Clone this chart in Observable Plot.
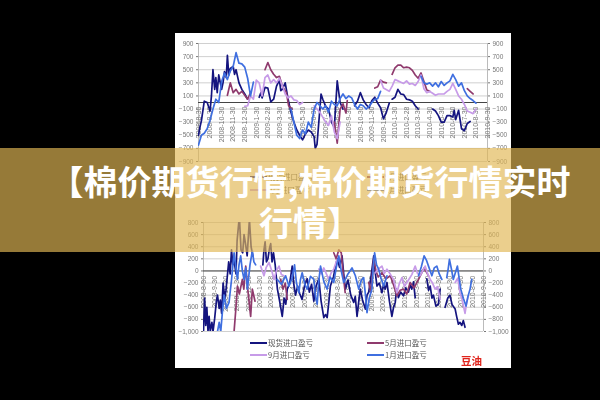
<!DOCTYPE html>
<html><head><meta charset="utf-8">
<script src="https://cdn.jsdelivr.net/npm/d3@7"></script>
<script src="https://cdn.jsdelivr.net/npm/@observablehq/plot@0.6"></script>
<style>
html,body{margin:0;padding:0;background:#000;width:600px;height:400px;overflow:hidden;font-family:"Noto Sans CJK SC","Noto Sans",sans-serif}
#panel{position:absolute;left:175px;top:33px;width:336px;height:335px;background:#fff}
.chart{position:absolute;left:175px;filter:blur(.55px)}
.chart svg{background:transparent!important;display:block}
.leg{position:absolute;font-size:7.5px;line-height:9px;color:#555;white-space:nowrap;filter:blur(.35px);padding-left:18px}
.leg i{position:absolute;left:0;top:4px;width:17px;height:1.5px}
#mark{position:absolute;left:461px;top:354px;color:#e0241c;font-size:10.5px;font-weight:700;line-height:13px;filter:blur(.3px)}
#band{position:absolute;left:0;top:148px;width:600px;height:104px;background:rgba(225,183,84,.667)}
#title{position:absolute;left:0;width:620px;top:160px;text-align:center;color:#fff;font-weight:700;font-size:34px;line-height:41px}
</style></head><body>
<div id="panel"></div>
<div id="c1" class="chart" style="top:33px"></div>
<div id="c2" class="chart" style="top:212px"></div>
<div id="legends"></div>
<div id="mark">豆油</div>
<div id="band"></div>
<div id="title">【棉价期货行情,棉价期货行情实时<br>行情】</div>
<script>
const tickMonths=[0,1,2,3,4,5,6,7,8,9,10,11,12,13,14,15,16,17,18,19,20,21,22,23,24,25];
const tickLabels=["2008-8-30","2008-9-30","2008-10-30","2008-11-30","2008-12-30","2009-1-30","2009-2-28","2009-3-30","2009-4-30","2009-5-30","2009-6-30","2009-7-30","2009-8-30","2009-9-30","2009-10-30","2009-11-30","2009-12-30","2010-1-30","2010-2-28","2010-3-30","2010-4-30","2010-5-30","2010-6-30","2010-7-30","2010-8-30","2010-9-30"];
const legendNames=["现货进口盈亏","5月进口盈亏","9月进口盈亏","1月进口盈亏"];
const colors={spot:"#14147f",may:"#8f3a6d",sep:"#c79be8",jan:"#3f6fe0"};
const yTicks1=[-900,-700,-500,-300,-100,100,300,500,700,900];
const yTicks2=[-1000,-800,-600,-400,-200,0,200,400,600,800];

const spot1=[[0,-500],[.12,-380],[.25,-280],[.5,20],[.75,0],[1,-130],[1.12,100],[1.25,500],[1.4,200],[1.5,380],[1.62,150],[1.75,420],[2,200],[2.12,300],[2.25,470],[2.4,380],[2.5,720],[2.62,420],[2.75,520],[3,550],[3.12,430],[3.25,500],[3.5,300],[3.75,200],[4,130],[4.25,50],[4.5,null],
[5.25,80],[5.4,150],[5.5,70],[5.75,230],[6,220],[6.25,10],[6.5,50],[6.75,250],[7,340],[7.12,180],[7.25,200],[7.5,300],[7.75,50],[8,-150],[8.25,-300],[8.5,-420],[8.75,-500],[9,-570],[9.25,-480],[9.5,-420],[9.75,-450],[10,-520],[10.1,-700],[10.25,-640],[10.5,-100],[10.6,130],[10.75,50],[11,-60],[11.25,-100],[11.5,-300],[11.75,-380],[12,330],[12.25,0],[12.5,-100],[12.75,null],
[13.5,-50],[13.75,20],[14,150],[14.25,40],[14.5,-30],[14.75,-80],[15,30],[15.25,80],[15.5,-10],[15.75,-80],[16,-250],[16.25,-150],[16.5,-10],[16.6,null],[16.75,50],[17,80],[17.25,200],[17.5,130],[17.75,120],[18,50],[18.25,40],[18.5,20],[18.75,-50],[19,-100],[19.1,null],
[20.25,-100],[20.5,-130],[20.75,-200],[21,-300],[21.25,-300],[21.5,-200],[21.75,-200],[22,-220],[22.12,-120],[22.25,-260],[22.5,-120],[22.75,-400],[23,-430],[23.25,-320],[23.5,-290]];
const may1=[[2.5,110],[2.75,300],[3,150],[3.25,200],[3.5,130],[3.75,170],[4,110],[4.25,50],[4.5,150],[4.6,null],
[5.75,500],[6,610],[6.25,500],[6.5,430],[6.75,380],[7,400],[7.25,250],[7.6,150],[7.8,-50],[8.1,-100],[8.2,null],
[11.75,-300],[12,-620],[12.25,-100],[12.5,-20],[12.75,-160],[12.87,30],[12.9,null],
[15.25,220],[15.5,240],[15.75,340],[16,310],[16.25,300],[16.3,null],[16.75,430],[17,530],[17.25,570],[17.5,570],[17.75,530],[18,540],[18.25,530],[18.5,490],[18.75,420],[19,370],[19.25,450],[19.5,320],[19.75,190],[20,170],[20.1,null],
[23.25,210],[23.5,170],[23.75,130]];
const sep1=[[4,-60],[4.25,-50],[4.5,100],[4.75,50],[5,340],[5.25,300],[5.5,100],[5.75,380],[6,420],[6.25,300],[6.5,350],[6.75,300],[7,370],[7.25,260],[7.5,130],[7.75,70],[8,100],[8.25,40],[8.5,30],[8.75,-30],[9,0],[9.2,null],
[10,-50],[10.25,-100],[10.5,-150],[11,-300],[11.25,-350],[11.5,-200],[11.75,-450],[12,-550],[12.25,-300],[12.5,null],
[15.75,340],[16,220],[16.5,170],[16.75,250],[17,350],[17.25,330],[17.5,310],[17.75,290],[18,330],[18.25,280],[18.5,290],[18.75,260],[19,320],[19.25,420],[19.5,210],[19.75,150],[20,170],[20.25,140],[20.5,110],[20.75,130],[21,130],[21.25,130],[21.5,170],[21.75,200],[22,290],[22.25,200],[22.5,100],[22.75,50],[23,-30],[23.25,-130],[23.5,-150],[23.75,-170],[24,-100]];
const jan1=[[0,-650],[.25,-500],[.5,-470],[.75,-400],[1,-270],[1.25,-100],[1.5,50],[1.75,0],[2,320],[2.25,450],[2.5,350],[2.75,480],[3,550],[3.25,760],[3.5,600],[3.75,590],[4,540],[4.25,370],[4.5,100],[4.75,310],[4.9,null],
[8,-100],[8.25,-300],[8.5,-500],[8.75,-550],[9,-420],[9.25,-480],[9.5,-300],[9.75,-380],[10,-100],[10.25,0],[10.5,-50],[10.75,-100],[11,-50],[11.25,-150],[11.5,20],[11.75,-30],[12,-50],[12.25,60],[12.5,130],[12.75,60],[13,100],[13.25,70],[13.5,-30],[13.75,-100],[14,-30],[14.25,-50],[14.5,-100],[14.75,-60],[15,0],[15.25,50],[15.5,60],[15.75,170],[15.9,null],
[19.25,400],[19.5,300],[19.75,280],[20,300],[20.25,250],[20.5,300],[20.75,240],[21,320],[21.25,260],[21.5,300],[21.75,330],[22,430],[22.25,350],[22.5,250],[22.75,300],[23,180],[23.25,100],[23.5,60],[23.75,30],[24,-10]];

const spot2=[[0,-1000],[.1,-450],[.2,-900],[.3,-600],[.4,-1000],[.5,-750],[.6,-1000],[.75,-850],[.85,-1000],[1,-780],[1.15,-500],[1.25,-400],[1.4,-620],[1.5,-480],[1.62,-700],[1.75,-200],[1.9,-450],[2,-330],[2.12,-100],[2.25,150],[2.38,-50],[2.5,350],[2.62,100],[2.75,150],[2.9,-50],[3,500],[3.2,900],[3.35,350],[3.5,300],[3.62,600],[3.75,450],[3.9,250],[4.1,850],[4.25,400],[4.4,250],[4.6,null],
[5.3,100],[5.4,350],[5.5,480],[5.62,150],[5.75,200],[5.9,380],[6,450],[6.12,150],[6.25,300],[6.4,100],[6.6,-300],[6.8,-500],[7.03,-750],[7.2,-450],[7.35,-550],[7.48,-300],[7.7,-200],[7.92,80],[8.05,-200],[8.22,-400],[8.4,-250],[8.6,-380],[8.8,-470],[9.05,-220],[9.26,-130],[9.45,-350],[9.65,-220],[9.85,-500],[10.05,-250],[10.3,-130],[10.5,-500],[10.74,-770],[10.9,-720],[11.04,-770],[11.2,-500],[11.33,-250],[11.6,-100],[11.93,200],[12.15,60],[12.37,250],[12.52,-50],[12.67,-300],[12.9,-150],[13.15,-400],[13.41,-520],[13.55,-420],[13.71,-750],[13.85,-520],[14,-300],[14.2,-480],[14.45,-630],[14.6,-400],[14.75,-350],[14.95,-100],[15.2,250],[15.35,-50],[15.49,-250],[15.7,-200],[15.93,-360],[16.08,-220],[16.23,-300],[16.38,-190],[16.6,-500],[16.82,-750],[16.97,-600],[17.12,-520],[17.25,-300],[17.4,-440],[17.6,-350],[17.86,-410],[18.05,-280],[18.3,-350],[18.45,-230],[18.6,-300],[18.75,-180],[18.9,-440],[19,null],
[19.94,-130],[20.1,-320],[20.24,-250],[20.4,-450],[20.53,-400],[20.75,-580],[20.98,-550],[21.13,-300],[21.2,null],[21.57,-600],[21.8,-450],[22,-400],[22.2,-560],[22.47,-630],[22.6,-750],[22.76,-880],[22.9,-850],[23.06,-900],[23.2,-820],[23.35,-930]];
const may2=[[2.73,-1000],[2.9,-600],[3.03,-250],[3.2,-380],[3.47,-140],[3.6,-300],[3.77,80],[3.95,-300],[4.21,-750],[4.36,-300],[4.6,-500],[4.7,null],
[6.88,-140],[7.1,-300],[7.3,-200],[7.48,-470],[7.6,null],[11.63,300],[11.85,200],[12.08,350],[12.3,300],[12.5,-100],[12.65,-360],[12.7,null],
[14.75,-190],[14.95,-350],[15.2,190],[15.4,0],[15.6,-100],[15.93,-30],[16.3,-130],[16.68,-80],[17,-250],[17.27,-410],[17.55,-320],[17.86,-300],[18.15,-380],[18.45,-190],[18.8,-280],[19.2,-140],[19.7,50],[20.09,-80]];
const sep2=[[5.1,80],[5.4,-80],[5.6,60],[5.85,140],[6.1,0],[6.3,-140],[6.5,0],[6.74,80],[6.95,-60],[7.18,-80],[7.3,null],
[10.3,30],[10.5,-50],[10.74,50],[11,-60],[11.19,-140],[11.4,-30],[11.63,30],[11.93,190],[12,null],
[15.34,-30],[15.6,30],[15.93,80],[16.15,-40],[16.38,30],[16.7,-60],[16.97,-140],[17.27,-360],[17.5,-200],[17.72,-110],[17.95,-260],[18.16,-190],[18.4,-120],[18.6,-60],[18.9,80],[19.1,-40],[19.34,-80],[19.79,80],[20,-40],[20.24,-140],[20.45,-200],[20.68,-300],[20.9,-260],[21.13,-470],[21.3,null],
[22.47,-190],[22.7,-120],[22.9,-360],[23.1,-480],[23.35,-700],[23.5,-520],[23.65,-410]];
const jan2=[[1.25,-1000],[1.4,-850],[1.54,-1000],[1.7,-650],[1.84,-400],[2.05,-620],[2.28,-520],[2.5,-150],[2.73,300],[2.9,50],[3.03,-140],[3.17,100],[3.32,250],[3.47,0],[3.62,-140],[3.77,50],[3.92,-300],[4.15,100],[4.36,330],[4.5,150],[4.66,100],[4.8,null],
[6.59,-140],[6.95,-220],[7.33,-80],[7.63,-250],[7.9,-120],[8.13,100],[8.3,-200],[8.52,-360],[8.65,-150],[8.81,-30],[9.05,-220],[9.26,-300],[9.55,-90],[9.85,-140],[10,-420],[10.15,-550],[10.3,-150],[10.45,80],[10.75,-180],[11.04,-300],[11.3,-100],[11.63,-190],[11.85,50],[12.08,250],[12.3,0],[12.52,-190],[12.9,-50],[13.26,50],[13.56,-80],[13.86,-300],[14.1,-150],[14.3,-110],[14.45,-380],[14.6,-690],[14.8,-450],[15.04,-300],[15.15,50],[15.28,300],[15.45,100],[15.64,30],[15.85,-120],[16.09,-250],[16.38,-80],[16.5,null],
[19.2,-80],[19.45,70],[19.7,250],[19.9,180],[20.09,80],[20.39,-80],[20.6,50],[20.83,80],[21.05,-50],[21.28,-140],[21.4,null],[21.72,-110],[21.85,40],[21.96,190],[22.15,20],[22.3,-140],[22.5,-20],[22.67,80],[22.85,-150],[22.97,-300],[23.2,-450],[23.44,-580],[23.6,-430],[23.8,-300],[23.95,-140]];

function chart(sel,series,yDomain,yTicks,o){
  const gray="#777";
  const ln=(a,c)=>Plot.line(a,{x:d=>d[0],y:d=>d[1],stroke:c,strokeWidth:o.sw,clip:true});
  const p=Plot.plot({
    width:336,height:o.height,marginLeft:o.ml,marginRight:o.mr,marginTop:10,marginBottom:4,
    style:{background:"transparent",fontFamily:"'Liberation Sans',sans-serif"},
    x:{domain:[0,25],axis:null},
    y:{domain:yDomain,axis:null},
    marks:[
      Plot.gridY(yTicks,{stroke:"#c4c4c4",strokeOpacity:1,strokeWidth:.8}),
      Plot.axisY(yTicks,{anchor:"left",label:null,tickSize:2,tickPadding:3,fontSize:6.5,color:gray,stroke:gray}),
      Plot.axisY(yTicks,{anchor:"right",label:null,tickSize:2,tickPadding:3,fontSize:6.5,color:gray,stroke:gray}),
      Plot.ruleX([0,25],{stroke:"#aaa",strokeWidth:.8}),
      Plot.ruleY([0],{stroke:"#444",strokeWidth:1}),
      Plot.text(tickLabels,{x:(d,i)=>tickMonths[i],y:0,text:d=>d,rotate:-90,textAnchor:"end",dy:o.dy,fontSize:7,fill:gray}),
      ln(series[0],colors.spot),ln(series[1],colors.may),ln(series[2],colors.sep),ln(series[3],colors.jan)
    ]});
  document.querySelector(sel).append(p);
}
chart("#c1",[spot1,may1,sep1,jan1],[-900,900],yTicks1,{height:132,ml:23,mr:24,dy:4,sw:1.7});
chart("#c2",[spot2,may2,sep2,jan2],[-1000,800],yTicks2,{height:123,ml:28,mr:28,dy:5,sw:1.7});

const legendSpots=[[0,colors.spot,250,0],[1,colors.may,367,0],[2,colors.sep,250,1],[3,colors.jan,367,1]];
const box=document.getElementById("legends");
for(const top of [[172,13],[338,12]]){
  for(const [i,c,x,row] of legendSpots){
    const d=document.createElement("div");d.className="leg";
    d.style.left=x+"px";d.style.top=(top[0]+row*top[1])+"px";
    d.innerHTML=`<i style="background:${c}"></i>${legendNames[i]}`;
    box.append(d);
  }
}
</script></body></html>
